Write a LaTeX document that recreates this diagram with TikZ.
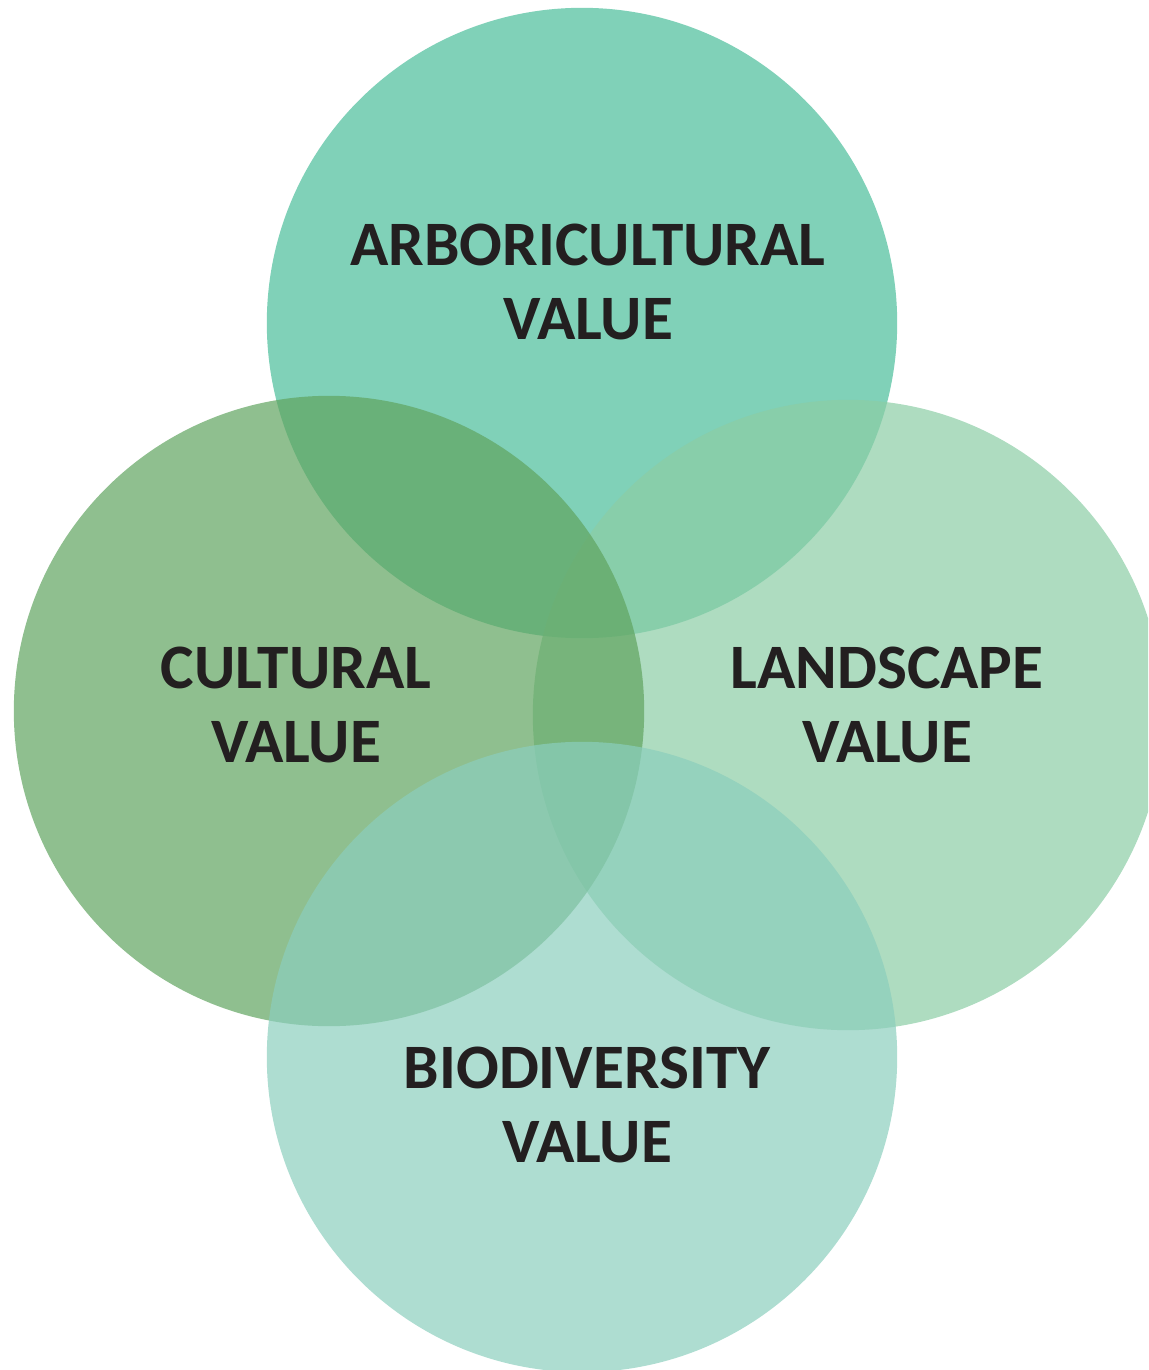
\documentclass[tikz,border=0pt]{standalone}
\usepackage{fontspec}
\setmainfont{Carlito}
\usepackage{tikz}
\usetikzlibrary{positioning,shapes.geometric}
\definecolor{arbcol}{RGB}{74,189,154}
\definecolor{landcol}{RGB}{139,205,165}
\definecolor{cultcol}{RGB}{96,164,95}
\definecolor{biocol}{RGB}{139,206,189}
\definecolor{inkcol}{RGB}{35,31,32}
\tikzstyle{valuecircle} = [circle, minimum size=6.3cm, inner sep=0pt, fill opacity=0.7]
\tikzstyle{valuetext} = [align=center, text=inkcol, font=\fontsize{18}{20.8}\selectfont\bfseries]

\begin{document}
\begin{tikzpicture}[x=0.01cm, y=-0.01cm]
        \useasboundingbox (0,0) rectangle (1148,1370);
        \clip (0,0) rectangle (1148,1370);
        \node[valuecircle, fill=arbcol] (arb) at (582,323) {};
        \node[valuecircle, fill=landcol] (land) at (848,715) {};
        \node[valuecircle, fill=cultcol] (cult) at (329,711) {};
        \node[valuecircle, fill=biocol] (bio) at (582,1057) {};
        \node[valuetext] (arbtext) at (588,282) {ARBORICULTURAL\\VALUE};
        \node[valuetext] (culttext) at (296,705) {CULTURAL\\VALUE};
        \node[valuetext] (landtext) at (887,705) {LANDSCAPE\\VALUE};
        \node[valuetext] (biotext) at (587,1105) {BIODIVERSITY\\VALUE};
        \end{tikzpicture}
\end{document}
